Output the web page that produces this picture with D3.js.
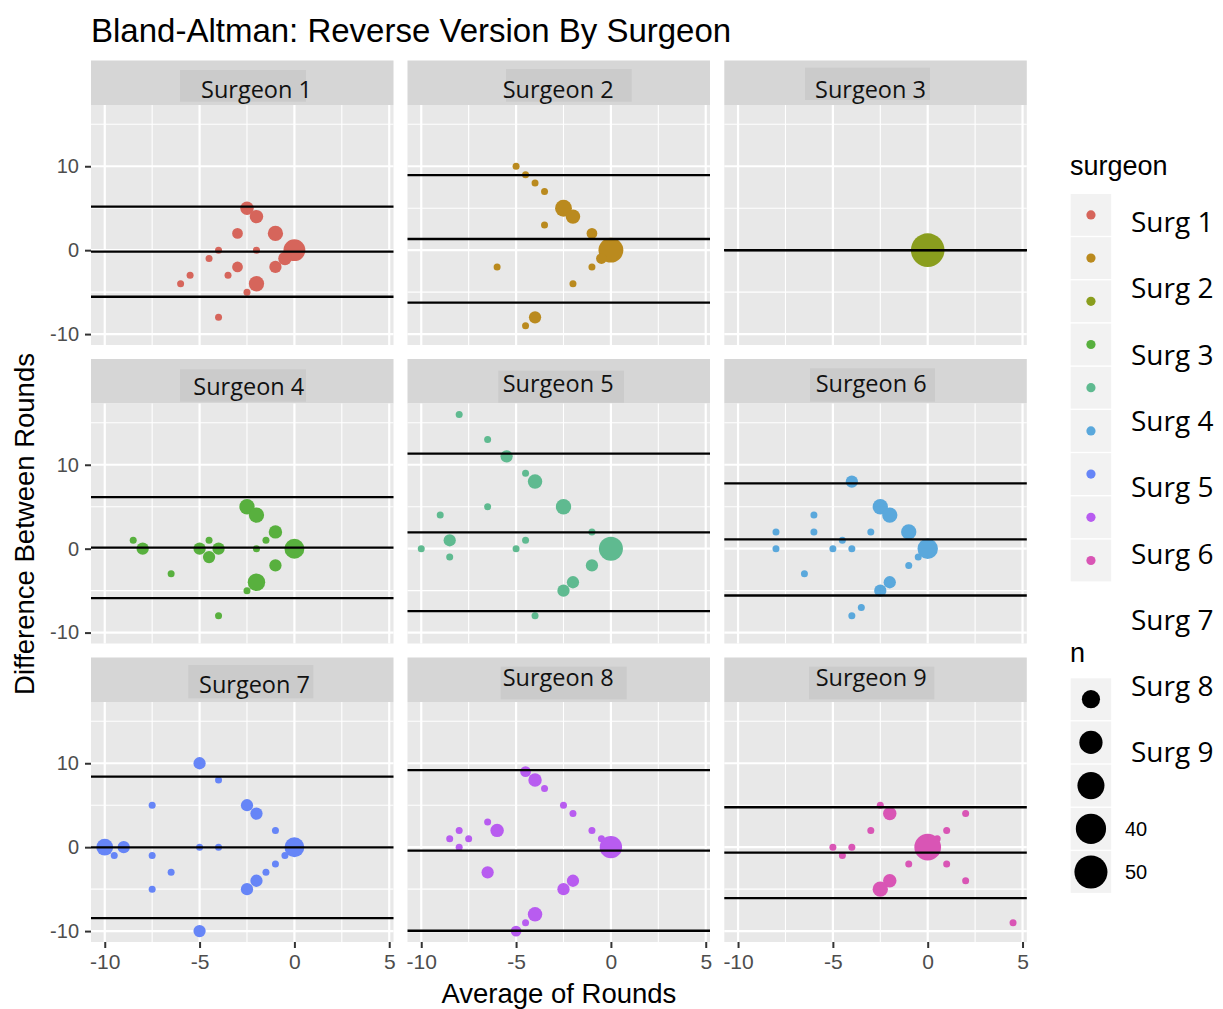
<!DOCTYPE html>
<html><head><meta charset="utf-8">
<script src="https://cdn.jsdelivr.net/npm/d3@7"></script>
<style>body{margin:0;background:#fff}</style>
</head><body>
<svg id="chart" width="1223" height="1009"></svg>
<script>
// ---------------- DATA ----------------
const surgeons = ["Surgeon 1","Surgeon 2","Surgeon 3","Surgeon 4","Surgeon 5","Surgeon 6","Surgeon 7","Surgeon 8","Surgeon 9"];
const legendLabels = ["Surg 1","Surg 2","Surg 3","Surg 4","Surg 5","Surg 6","Surg 7","Surg 8","Surg 9"];
const colors = ["#D6655B","#BA8A1E","#8A9E1E","#58B03E","#5FBA90","#5AA8DC","#6685F7","#B85CF0","#D955B5"];
// each point: [average of rounds, difference between rounds, n]
const surgeon1 = [[-2.5,5,4],[-2,4,4],[-3,2,2],[-1,2,6],[0,0,17],[-0.5,-1,4],[-4,0,1],[-2,0,1],[-4.5,-1,1],[-3,-2,2],[-1,-2,3],[-3.5,-3,1],[-5.5,-3,1],[-6,-4,1],[-2,-4,6],[-2.5,-5,1],[-4,-8,1]];
const surgeon2 = [[-5,10,1],[-4.5,9,1],[-4,8,1],[-3.5,7,1],[-2.5,5,8],[-2,4,5],[-3.5,3,1],[-1,2,2],[0,0,24],[-0.5,-1,2],[-6,-2,1],[-1,-2,1],[-2,-4,1],[-4,-8,3],[-4.5,-9,1]];
const surgeon3 = [[0,0,52]];
const surgeon4 = [[-8.5,1,1],[-8,0,3],[-6.5,-3,1],[-5,0,3],[-4.5,1,1],[-4.5,-1,3],[-4,0,3],[-4,-8,1],[-2.5,5,6],[-2,4,6],[-1.5,1,1],[-1,2,4],[-2,0,1],[0,0,13],[-1,-2,3],[-2,-4,9],[-2.5,-5,1]];
const surgeon5 = [[-8,16,1],[-6.5,13,1],[-5.5,11,3],[-4.5,9,1],[-4,8,5],[-6.5,5,1],[-2.5,5,6],[-9,4,1],[-1,2,1],[-8.5,1,3],[-4.5,1,1],[-10,0,1],[-5,0,1],[-8.5,-1,1],[0,0,22],[-1,-2,3],[-2,-4,3],[-2.5,-5,3],[-4,-8,1]];
const surgeon6 = [[-4,8,3],[-6,4,1],[-2.5,5,6],[-2,4,6],[-8,2,1],[-6,2,1],[-3,2,1],[-1,2,6],[-4.5,1,1],[-8,0,1],[-5,0,1],[-4,0,1],[0,0,14],[-0.5,-1,1],[-1,-2,1],[-6.5,-3,1],[-2,-4,3],[-2.5,-5,3],[-3.5,-7,1],[-4,-8,1]];
const surgeon7 = [[-5,10,3],[-4,8,1],[-7.5,5,1],[-2.5,5,3],[-2,4,3],[-1,2,1],[-10,0,8],[-9,0,3],[-9.5,-1,1],[-7.5,-1,1],[-5,0,1],[-4,0,1],[0,0,13],[-0.5,-1,1],[-1,-2,1],[-1.5,-3,1],[-6.5,-3,1],[-2,-4,3],[-2.5,-5,3],[-7.5,-5,1],[-5,-10,3]];
const surgeon8 = [[-4.5,9,2],[-4,8,4],[-3.5,7,1],[-2.5,5,1],[-2,4,1],[-1,2,1],[-0.5,1,1],[0,0,18],[-6.5,3,1],[-6,2,4],[-8,2,1],[-8.5,1,1],[-7.5,1,1],[-8,0,1],[-6.5,-3,3],[-2,-4,3],[-2.5,-5,3],[-4,-8,5],[-4.5,-9,1],[-5,-10,2]];
const surgeon9 = [[-2.5,5,1],[-2,4,4],[-3,2,1],[2,4,1],[1,2,1],[0.5,1,1],[0,0,29],[-5,0,1],[-4,0,1],[-4.5,-1,1],[-1,-2,1],[1,-2,1],[2,-4,1],[-2,-4,4],[-2.5,-5,6],[4.5,-9,1]];
const upperLoA = [5.2, 8.95, 0, 6.15, 11.33, 7.79, 8.4, 9.17, 4.76];
const meanDiff = [-0.18, 1.33, 0, 0.12, 1.95, 1.12, -0.02, -0.4, -0.65];
const lowerLoA = [-5.55, -6.25, 0, -5.9, -7.44, -5.58, -8.45, -9.96, -6.07];
const xTicks = [-10, -5, 0, 5];
const yTicks = [-10, 0, 10];
const xMinor = [-7.5, -2.5, 2.5];
const yMinor = [-5, 5, 15];
const sizeBreaks = [10, 20, 30, 40, 50];
const sizeBreakLabels = ["", "", "", "40", "50"];
const titleText = "Bland-Altman: Reverse Version By Surgeon";
const xTitle = "Average of Rounds";
const yTitle = "Difference Between Rounds";

// ---------------- LAYOUT ----------------
const allSeries = [surgeon1,surgeon2,surgeon3,surgeon4,surgeon5,surgeon6,surgeon7,surgeon8,surgeon9];
const colLeft = [91, 407.5, 724.3];
const PW = 302.5, PH = 240, SH = 44.5;
const stripTop = [60.5, 359, 657.5];
// strip overlay boxes [boxX, boxY, boxW, boxH, textX, baseline] relative to panel left / strip top
const stripBoxes = [
  [89, 9.5, 126, 31.7, 110, 37.8],
  [98.5, 8.5, 125.7, 32.7, 95.2, 37.8],
  [80.7, 7.2, 125, 32.3, 90.7, 37.2],
  [89, 10.3, 126, 32.4, 102.3, 36],
  [90.8, 11.7, 125.7, 32, 95.2, 32.7],
  [85.7, 9.3, 125, 33.4, 91.4, 32.7],
  [97.3, 7.5, 125, 33.3, 108, 35.2],
  [93.2, 9.2, 126, 32.6, 95.2, 28.5],
  [84.7, 9.2, 125.3, 32.6, 91.4, 28.5]
];

const all = allSeries.flat();
const xExt = d3.extent(all, d => d[0]);
const yExt = d3.extent(all, d => d[1]);
const xPad = (xExt[1]-xExt[0])*0.05, yPad = (yExt[1]-yExt[0])*0.05;
const xDomain = [xExt[0]-xPad, xExt[1]+xPad];
const yDomain = [yExt[0]-yPad, yExt[1]+yPad];

const nExt = d3.extent(all, d => d[2]);
const nRescale = d3.scaleLinear().domain(nExt).range([0,1]);
const rRange = d3.scaleLinear().domain([0,1]).range([3.5, 16.8]);
const rOf = n => rRange(Math.sqrt(Math.max(0, nRescale(n))));
const tickFmt = d => String(d);

const svg = d3.select("#chart");
svg.append("rect").attr("width",1223).attr("height",1009).attr("fill","#fff");

const sans = "'Liberation Sans', Arial, sans-serif";
const stripFont = "'Open Sans', 'Noto Sans', sans-serif";

svg.append("text").attr("x",91).attr("y",41.5).attr("font-family",sans).attr("font-size",33)
  .attr("fill","#000").text(titleText);

allSeries.forEach((data, i) => {
  const col = i % 3, row = Math.floor(i / 3);
  const left = colLeft[col], sTop = stripTop[row], pTop = sTop + SH;
  const x = d3.scaleLinear().domain(xDomain).range([left, left+PW]);
  const y = d3.scaleLinear().domain(yDomain).range([pTop+PH, pTop]);
  const g = svg.append("g");

  // strip
  g.append("rect").attr("x",left).attr("y",sTop).attr("width",PW).attr("height",SH).attr("fill","#D6D6D6");
  const sb = stripBoxes[i];
  g.append("rect").attr("x",left+sb[0]).attr("y",sTop+sb[1]).attr("width",sb[2]).attr("height",sb[3]).attr("fill","#CBCBCB");
  g.append("text").attr("x",left+sb[4]).attr("y",sTop+sb[5]).attr("font-family",stripFont).attr("font-size",23.5)
    .attr("fill","#111").text(surgeons[i]);

  // panel
  g.append("rect").attr("x",left).attr("y",pTop).attr("width",PW).attr("height",PH).attr("fill","#E8E8E8");
  g.selectAll(".xmin").data(xMinor).join("line").attr("x1",d=>x(d)).attr("x2",d=>x(d))
    .attr("y1",pTop).attr("y2",pTop+PH).attr("stroke","#fff").attr("stroke-width",1.1);
  g.selectAll(".ymin").data(yMinor).join("line").attr("y1",d=>y(d)).attr("y2",d=>y(d))
    .attr("x1",left).attr("x2",left+PW).attr("stroke","#fff").attr("stroke-width",1.1);
  g.selectAll(".xmaj").data(xTicks).join("line").attr("x1",d=>x(d)).attr("x2",d=>x(d))
    .attr("y1",pTop).attr("y2",pTop+PH).attr("stroke","#fff").attr("stroke-width",2.2);
  g.selectAll(".ymaj").data(yTicks).join("line").attr("y1",d=>y(d)).attr("y2",d=>y(d))
    .attr("x1",left).attr("x2",left+PW).attr("stroke","#fff").attr("stroke-width",2.2);

  // points
  g.selectAll("circle").data(data).join("circle")
    .attr("cx",d=>x(d[0])).attr("cy",d=>y(d[1])).attr("r",d=>rOf(d[2])).attr("fill",colors[i]);

  // limits of agreement
  g.selectAll(".hl").data([upperLoA[i], meanDiff[i], lowerLoA[i]]).join("line")
    .attr("x1",left).attr("x2",left+PW).attr("y1",d=>y(d)).attr("y2",d=>y(d))
    .attr("stroke","#000").attr("stroke-width",2.3);

  // axes
  if (col === 0) {
    const ax = g.append("g").attr("transform",`translate(${left},0)`)
      .call(d3.axisLeft(y).tickValues(yTicks).tickSize(6).tickPadding(6).tickFormat(tickFmt));
    ax.select(".domain").remove();
    ax.selectAll("line").attr("stroke","#333").attr("stroke-width",2);
    ax.selectAll("text").attr("font-family",sans).attr("font-size",20).attr("fill","#4D4D4D");
  }
  if (row === 2) {
    const ax = g.append("g").attr("transform",`translate(0,${pTop+PH})`)
      .call(d3.axisBottom(x).tickValues(xTicks).tickSize(6).tickPadding(6).tickFormat(tickFmt));
    ax.select(".domain").remove();
    ax.selectAll("line").attr("stroke","#333").attr("stroke-width",2);
    ax.selectAll("text").attr("font-family",sans).attr("font-size",21).attr("fill","#4D4D4D");
  }
});

// axis titles
svg.append("text").attr("x",(colLeft[0]+colLeft[2]+PW)/2).attr("y",1003).attr("text-anchor","middle")
  .attr("font-family",sans).attr("font-size",27.5).attr("fill","#000").text(xTitle);
svg.append("text").attr("transform","translate(34,524) rotate(-90)").attr("text-anchor","middle")
  .attr("font-family",sans).attr("font-size",27.5).attr("fill","#000").text(yTitle);

// ---------------- LEGENDS ----------------
const lg = svg.append("g");
const keyX = 1070.7, keyW = 40.5, keyPitch = 43.2, keyH = 41.8;
lg.append("text").attr("x",1070).attr("y",175).attr("font-family",sans).attr("font-size",27).attr("fill","#000").text("surgeon");
const colKeys = lg.selectAll(".ck").data(colors).join("g").attr("transform",(d,i)=>`translate(${keyX},${194+i*keyPitch})`);
colKeys.append("rect").attr("width",keyW).attr("height",keyH).attr("fill","#F2F2F2");
colKeys.append("circle").attr("cx",keyW/2).attr("cy",keyH/2).attr("r",4.6).attr("fill",d=>d);
lg.selectAll(".sl").data(legendLabels).join("text").attr("x",1131).attr("y",(d,i)=>232+i*66.3)
  .attr("font-family",stripFont).attr("font-size",28).attr("fill","#000").text(d=>d);

lg.append("text").attr("x",1070).attr("y",662).attr("font-family",sans).attr("font-size",27).attr("fill","#000").text("n");
const sizeKeys = lg.selectAll(".szk").data(sizeBreaks).join("g").attr("transform",(d,i)=>`translate(${keyX},${678.3+i*keyPitch})`);
sizeKeys.append("rect").attr("width",keyW).attr("height",keyH).attr("fill","#F2F2F2");
sizeKeys.append("circle").attr("cx",keyW/2).attr("cy",keyH/2).attr("r",d=>rOf(d)).attr("fill","#000");
sizeKeys.append("text").attr("x",1125-keyX).attr("y",keyH/2+7).attr("font-family",sans).attr("font-size",20)
  .attr("fill","#000").text((d,i)=>sizeBreakLabels[i]);
</script>
</body></html>
